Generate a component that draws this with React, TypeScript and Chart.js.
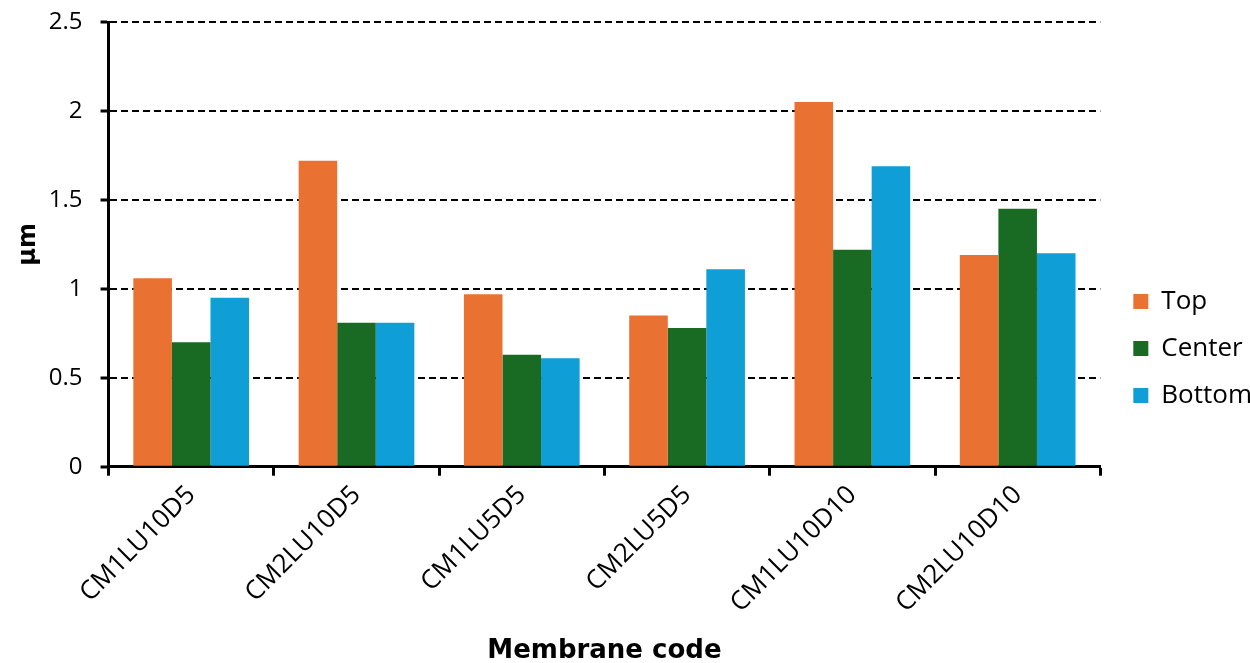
import React, { useEffect, useRef } from "react";
import { Chart, registerables } from "chart.js";

Chart.register(...registerables);

const categories = ["CM1LU10D5", "CM2LU10D5", "CM1LU5D5", "CM2LU5D5", "CM1LU10D10", "CM2LU10D10"];
const topValues = [1.06, 1.72, 0.97, 0.85, 2.05, 1.19];
const centerValues = [0.70, 0.81, 0.63, 0.78, 1.22, 1.45];
const bottomValues = [0.95, 0.81, 0.61, 1.11, 1.69, 1.20];
const seriesNames = ["Top", "Center", "Bottom"];
const seriesColors = ["#E97132", "#196B24", "#0F9ED5"];
const FONT = "'Open Sans', Lato, sans-serif";
const BOLD_FONT = "'DejaVu Sans', sans-serif";

// nudges the legend box after layout (style only)
const legendShift = {
  id: "legendShift",
  afterLayout(chart: any) {
    const lg = chart.legend;
    if (!lg) return;
    const dx = 12;
    const dy = 17;
    lg.left += dx;
    lg.right += dx;
    lg.top += dy;
    lg.bottom += dy;
  },
};

export default function App() {
  const canvasRef = useRef<HTMLCanvasElement | null>(null);

  useEffect(() => {
    document.body.style.margin = "0";
    const canvas = canvasRef.current;
    if (!canvas) return;
    const chart = new Chart(canvas, {
      type: "bar",
      data: {
        labels: categories,
        datasets: [topValues, centerValues, bottomValues].map((vals, i) => ({
          label: seriesNames[i],
          data: vals,
          backgroundColor: seriesColors[i],
          borderWidth: 0,
          categoryPercentage: 0.7,
          barPercentage: 1.0,
        })),
      },
      plugins: [legendShift],
      options: {
        animation: false,
        responsive: false,
        maintainAspectRatio: false,
        layout: { padding: { top: 0, right: 0, left: 4, bottom: 0 } },
        plugins: {
          tooltip: { enabled: false },
          legend: {
            position: "right",
            align: "center",
            labels: {
              boxWidth: 15,
              boxHeight: 15,
              padding: 21,
              color: "#000",
              font: { family: FONT, size: 26 },
            },
          },
        },
        scales: {
          x: {
            grid: {
              display: true,
              drawOnChartArea: false,
              drawTicks: true,
              tickLength: 9,
              tickWidth: 3,
              tickColor: "#000",
              offset: true,
            },
            border: { display: true, color: "#000", width: 3 },
            ticks: {
              color: "#000",
              font: { family: FONT, size: 26 },
              minRotation: 45,
              maxRotation: 45,
              padding: 4,
            },
            title: {
              display: true,
              text: "Membrane code",
              color: "#000",
              font: { family: BOLD_FONT, size: 26, weight: "bold" },
              padding: { top: 13, bottom: -4 },
            },
          },
          y: {
            min: 0,
            max: 2.5,
            ticks: {
              stepSize: 0.5,
              color: "#000",
              font: { family: FONT, size: 24, lineHeight: 0.34 },
              padding: 18,
              callback: (v: any) => String(Number(v)),
            },
            grid: {
              color: "#000",
              lineWidth: 2,
              tickLength: 8,
              tickWidth: 3,
              tickColor: "#000",
              tickBorderDash: [],
            },
            border: { display: true, color: "#000", width: 3, dash: [7, 4] },
            title: {
              display: true,
              text: "µm",
              color: "#000",
              font: { family: BOLD_FONT, size: 24, weight: "bold" },
              padding: { top: 10, bottom: -12 },
            },
          },
        },
      },
    });
    return () => chart.destroy();
  }, []);

  return (
    <div style={{ width: 1250, height: 663, background: "#fff" }}>
      <canvas ref={canvasRef} width={1250} height={663} style={{ display: "block" }} />
    </div>
  );
}
